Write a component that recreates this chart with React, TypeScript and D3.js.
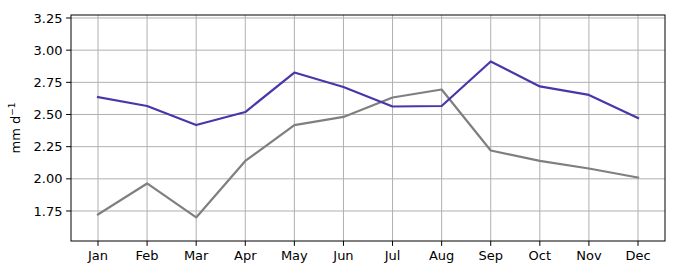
import React from "react";
import * as d3 from "d3";

const months = ["Jan","Feb","Mar","Apr","May","Jun","Jul","Aug","Sep","Oct","Nov","Dec"];
const seriesBlue = [2.636, 2.566, 2.418, 2.519, 2.826, 2.714, 2.562, 2.566, 2.912, 2.718, 2.652, 2.473];
const seriesGray = [1.723, 1.964, 1.700, 2.139, 2.418, 2.481, 2.632, 2.694, 2.220, 2.139, 2.080, 2.010];
const yTicks = [1.75, 2.0, 2.25, 2.5, 2.75, 3.0, 3.25];

const W = 680, H = 280;
const L = 71, R = 665, T = 15, B = 241;

export default function App() {
  const x = d3.scaleLinear().domain([-0.55, 11.55]).range([L, R]);
  const y = d3.scaleLinear().domain([1.5168, 3.2733]).range([B, T]);
  const line = d3.line<number>().x((_, i) => x(i)).y((d) => y(d));
  const font = "'DejaVu Sans', sans-serif";
  return (
    <svg width={W} height={H} style={{ position: "absolute", left: 0, top: 0, background: "#fff" }}
      fontFamily={font}>
      <rect x={0} y={0} width={W} height={H} fill="#fff" />
      {months.map((m, i) => (
        <line key={"gx" + i} x1={x(i)} x2={x(i)} y1={T} y2={B} stroke="#b0b0b0" strokeWidth={1} />
      ))}
      {yTicks.map((t) => (
        <line key={"gy" + t} x1={L} x2={R} y1={y(t)} y2={y(t)} stroke="#b0b0b0" strokeWidth={1} />
      ))}
      <path d={line(seriesGray) || ""} fill="none" stroke="#7f7f7f" strokeWidth={2.2} strokeLinejoin="round" strokeLinecap="square" />
      <path d={line(seriesBlue) || ""} fill="none" stroke="#4a36a8" strokeWidth={2.2} strokeLinejoin="round" strokeLinecap="square" />
      <rect x={L} y={T} width={R - L} height={B - T} fill="none" stroke="#000" strokeWidth={1} />
      {yTicks.map((t) => (
        <g key={"ty" + t}>
          <line x1={L - 4.9} x2={L} y1={y(t)} y2={y(t)} stroke="#000" strokeWidth={1} />
          <text x={L - 8.5} y={y(t)} dy="0.35em" textAnchor="end" fontSize={13} fill="#000">{t.toFixed(2)}</text>
        </g>
      ))}
      {months.map((m, i) => (
        <g key={"tx" + i}>
          <line x1={x(i)} x2={x(i)} y1={B} y2={B + 4.9} stroke="#000" strokeWidth={1} />
          <text x={x(i)} y={B + 9} dy="0.8em" textAnchor="middle" fontSize={13} fill="#000">{m}</text>
        </g>
      ))}
      <text transform={`translate(20, ${(T + B) / 2}) rotate(-90)`} textAnchor="middle" fontSize={13} fill="#000">
        mm d<tspan dy="-5" fontSize={9}>−1</tspan>
      </text>
    </svg>
  );
}
